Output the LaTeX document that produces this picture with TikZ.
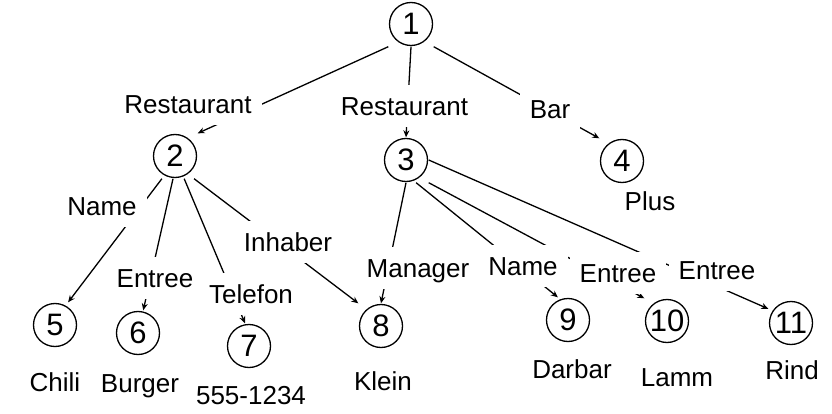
\documentclass[tikz,border=0pt]{standalone}
\usepackage{fontspec}
\setmainfont{Liberation Sans}
\usetikzlibrary{arrows.meta}
\begin{document}
\begin{tikzpicture}[x=1pt,y=-1pt,
  cnode/.style={rectangle, minimum size=45pt, inner sep=0pt, fill=white,
    font=\fontsize{31}{37}\selectfont,
    path picture={\draw[line width=1.3pt] (path picture bounding box.center) circle (21.5pt);}},
  elabel/.style={fill=white, inner xsep=10pt, inner ysep=11.5pt, text height=19pt, text depth=0pt,
    font=\fontsize{26}{31}\selectfont},
  vlabel/.style={inner sep=0pt, text height=19pt, text depth=0pt, font=\fontsize{26}{31}\selectfont},
  conn/.style={line width=1.3pt, -{Stealth[length=7pt,width=6pt]}},
]
\useasboundingbox[fill=white] (0,0) rectangle (832,414);
% tree nodes
\node[cnode] (n1) at (411,24) {1};
\node[cnode] (n2) at (175,156) {2};
\node[cnode] (n3) at (406,160) {3};
\node[cnode] (n4) at (622,161) {4};
\node[cnode] (n5) at (55,325) {5};
\node[cnode] (n6) at (138,333) {6};
\node[cnode] (n7) at (249,346) {7};
\node[cnode] (n8) at (381,326) {8};
\node[cnode] (n9) at (568,320) {9};
\node[cnode] (n10) at (667,321) {10};
\node[cnode] (n11) at (791,323) {11};
% connectors
\draw[conn] (n1.south west) -- (n2.north east);
\draw[conn] (n1.south) -- (n3.north);
\draw[conn] (n1.south east) -- (n4.north west);
\draw[conn] (n2.240) -- (n5.60);
\draw[conn] (n2.265) -- (n6.77);
\draw[conn] (n2.-68) -- (n7.100);
\draw[conn] (n2.-50) -- (n8.north west);
\draw[conn] (n3.south) -- (n8.north);
\draw[conn] (n3.-66) -- (n9.114);
\draw[conn] (n3.south east) -- (n10.north west);
\draw[conn] (n3.east) -- (n11.148);
% connector labels
\node[elabel] (l12) at (188,104) {Restaurant};
\node[elabel] (l13) at (404.5,106) {Restaurant};
\node[elabel] (l14) at (550,109.5) {Bar};
\node[elabel] (l25) at (102,205.5) {Name};
\node[elabel] (l26) at (155,278) {Entree};
\node[elabel] (l27) at (251,293.5) {Telefon};
\node[elabel] (l28) at (288,242) {Inhaber};
\node[elabel] (l38) at (418,267.5) {Manager};
\node[elabel] (l39) at (523,266) {Name};
\node[elabel] (l310) at (618,272.5) {Entree};
\node[elabel] (l311) at (717,269.5) {Entree};
% values
\node[vlabel] (v4) at (650,201.5) {Plus};
\node[vlabel] (v5) at (55,381.5) {Chili};
\node[vlabel] (v6) at (140,383) {Burger};
\node[vlabel] (v7) at (251,394.5) {555-1234};
\node[vlabel] (v8) at (383,381) {Klein};
\node[vlabel] (v9) at (572,368.5) {Darbar};
\node[vlabel] (v10) at (677,377) {Lamm};
\node[vlabel] (v11) at (792,370) {Rind};
\end{tikzpicture}
\end{document}
